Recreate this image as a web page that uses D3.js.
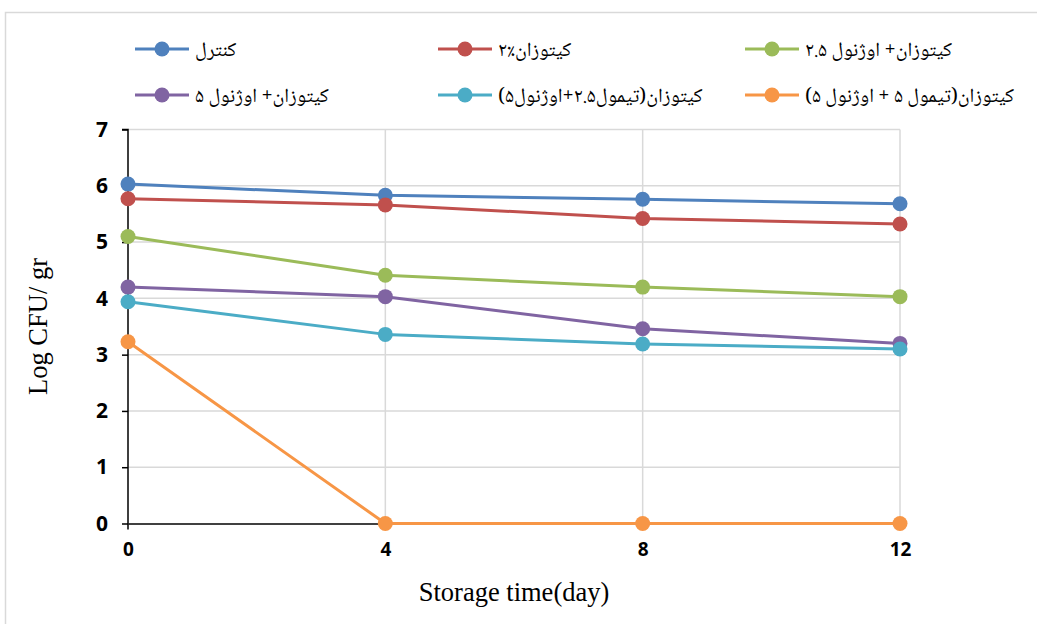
<!DOCTYPE html>
<html><head><meta charset="utf-8">
<script src="https://cdn.jsdelivr.net/npm/d3@7"></script>
<style>body{margin:0;background:#fff}</style>
</head><body>
<svg id="c" width="1037" height="624"></svg>
<script>
const days = [0, 4, 8, 12];
const yTicks = [0, 1, 2, 3, 4, 5, 6, 7];
const seriesNames = [
  "کنترل",
  "کیتوزان٪۲",
  "کیتوزان+ اوژنول ۲.۵",
  "کیتوزان+ اوژنول ۵",
  "کیتوزان(تیمول۲.۵+اوژنول۵)",
  "کیتوزان(تیمول ۵ + اوژنول ۵)"
];
const colors = ["#4f81bd", "#c0504d", "#9bbb59", "#8064a2", "#4bacc6", "#f79646"];
const control = [6.03, 5.83, 5.76, 5.68];
const chitosan2 = [5.77, 5.66, 5.42, 5.32];
const chitEug25 = [5.10, 4.41, 4.20, 4.03];
const chitEug5 = [4.20, 4.03, 3.46, 3.20];
const chitThy25Eug5 = [3.94, 3.36, 3.19, 3.10];
const chitThy5Eug5 = [3.23, 0, 0, 0];
const allSeries = [control, chitosan2, chitEug25, chitEug5, chitThy25Eug5, chitThy5Eug5];

const svg = d3.select("#c");
// outer frame
svg.append("rect").attr("x", 5.5).attr("y", 12.5).attr("width", 1100).attr("height", 700)
  .attr("fill", "none").attr("stroke", "#d9d9d9").attr("stroke-width", 1.5);

const x = d3.scaleLinear().domain([0, 12]).range([128, 900]);
const y = d3.scaleLinear().domain([0, 7]).range([523.5, 129.5]);

// grid
const g = svg.append("g");
g.selectAll("line.h").data(yTicks.filter(d => d > 0)).enter().append("line")
  .attr("x1", x(0)).attr("x2", x(12)).attr("y1", d => y(d)).attr("y2", d => y(d))
  .attr("stroke", "#d9d9d9").attr("stroke-width", 1.5);
g.selectAll("line.v").data(days.filter(d => d > 0)).enter().append("line")
  .attr("x1", d => x(d)).attr("x2", d => x(d)).attr("y1", y(7)).attr("y2", y(0))
  .attr("stroke", "#d9d9d9").attr("stroke-width", 1.5);

// axes
const yAxis = svg.append("g").attr("transform", `translate(${x(0)},0)`)
  .call(d3.axisLeft(y).tickValues(yTicks).tickSize(6).tickPadding(14).tickFormat(d3.format("d")));
yAxis.select(".domain").attr("stroke", "#000").attr("stroke-width", 1.5).attr("d", `M-6,${y(7)}H0V${y(0)+6}`);
yAxis.selectAll(".tick line").attr("stroke", "#000").attr("stroke-width", 1.5);
yAxis.selectAll("text").attr("font-family", "'Open Sans', 'Noto Sans', sans-serif").attr("font-weight", "bold")
  .attr("font-size", 21).attr("fill", "#000");

const xAxis = svg.append("g").attr("transform", `translate(0,${y(0)})`)
  .call(d3.axisBottom(x).tickValues(days).tickSize(0).tickPadding(19).tickFormat(d3.format("d")));
xAxis.select(".domain").attr("stroke", "#000").attr("stroke-width", 1.5);
xAxis.selectAll("text").attr("font-family", "'Open Sans', 'Noto Sans', sans-serif").attr("font-weight", "bold")
  .attr("font-size", 19).attr("fill", "#000");

// axis titles
svg.append("text").attr("transform", `translate(47,${(y(0)+y(7))/2}) rotate(-90)`)
  .attr("text-anchor", "middle").attr("font-family", "'Liberation Serif', 'Times New Roman', serif")
  .attr("font-size", 26.5).text("Log CFU/ gr");
svg.append("text").attr("x", (x(0)+x(12))/2).attr("y", 601)
  .attr("text-anchor", "middle").attr("font-family", "'Liberation Serif', 'Times New Roman', serif")
  .attr("font-size", 26.5).text("Storage time(day)");

// lines
const line = d3.line().x((d, i) => x(days[i])).y(d => y(d));
allSeries.forEach((s, k) => {
  svg.append("path").attr("d", line(s)).attr("fill", "none").attr("stroke", colors[k])
    .attr("stroke-width", 3).attr("stroke-linejoin", "round");
});
allSeries.forEach((s, k) => {
  svg.selectAll(null).data(s).enter().append("circle")
    .attr("cx", (d, i) => x(days[i])).attr("cy", d => y(d)).attr("r", 7.5).attr("fill", colors[k]);
});

// legend
const legX = [135, 438, 745];
const legY = [49, 95];
seriesNames.forEach((name, k) => {
  const lx = legX[k % 3], ly = legY[Math.floor(k / 3)];
  const lg = svg.append("g");
  lg.append("line").attr("x1", lx).attr("x2", lx + 54).attr("y1", ly).attr("y2", ly)
    .attr("stroke", colors[k]).attr("stroke-width", 3);
  lg.append("circle").attr("cx", lx + 27).attr("cy", ly).attr("r", 7.5).attr("fill", colors[k]);
  lg.append("text").attr("x", lx + 60).attr("y", ly + 7)
    .attr("direction", "rtl").attr("text-anchor", "end")
    .attr("font-family", "'Noto Naskh Arabic', 'Noto Sans Arabic', 'DejaVu Sans', sans-serif")
    .attr("font-size", 20).text(name);
});
</script>
</body></html>
